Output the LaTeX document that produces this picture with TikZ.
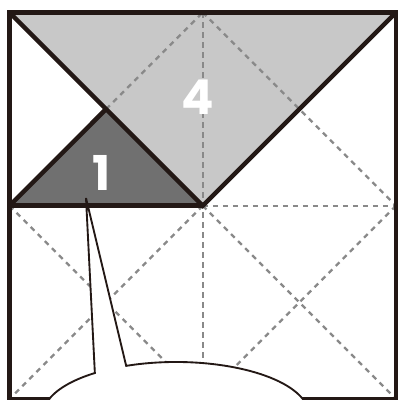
\documentclass[tikz,border=0pt]{standalone}
\usepackage{fontspec}
\setmainfont{Poppins}
\definecolor{ink}{HTML}{231815}
\definecolor{lightfold}{HTML}{C8C8C8}
\definecolor{darkfold}{HTML}{707070}
\definecolor{crease}{HTML}{898989}
\tikzset{
  heavy/.style={draw=ink, line width=3.4pt, line join=miter},
  creaseline/.style={draw=crease, line width=1.8pt, dash pattern=on 3.9pt off 3.6pt},
  bubble/.style={draw=ink, fill=white, line width=1.4pt, line join=miter},
  digit/.style={text=white, font=\fontsize{36pt}{36pt}\selectfont\bfseries, inner sep=0pt}
}
\begin{document}
\begin{tikzpicture}[x=0.75pt, y=0.75pt]
\useasboundingbox (0,0) rectangle (399,400);
% corners and key points (y up)
\coordinate (TL) at (9.5,387.5);
\coordinate (TR) at (396,387.5);
\coordinate (BR) at (396,1);
\coordinate (BL) at (9.5,1);
\coordinate (TM) at (202.75,387.5);
\coordinate (BM) at (202.75,1);
\coordinate (LM) at (9.5,194.25);
\coordinate (RM) at (396,194.25);
\coordinate (C)  at (202.75,194.25);
\coordinate (AP) at (106.1,290.9);
% folded flaps
\fill[lightfold] (TL) -- (TR) -- (C) -- cycle;
\fill[darkfold] (LM) -- (C) -- (AP) -- cycle;
% crease lines
\draw[creaseline] (TM) -- (BM);
\draw[creaseline] (C) -- (RM);
\draw[creaseline] (AP) -- (TM);
\draw[creaseline] (TM) -- (RM);
\draw[creaseline] (RM) -- (BM);
\draw[creaseline] (LM) -- (BM);
\draw[creaseline] (C) -- (BR);
\draw[creaseline] (C) -- (BL);
% labels
\node[digit] (four) at (198,302.5) {4};
\node[digit] (one) at (102,227) {1};
% heavy outlines
\draw[heavy] (TL) -- (TR) -- (BR) -- (BL) -- cycle;
\draw[heavy] (TL) -- (C) -- (TR);
\draw[heavy] (LM) -- (C);
\draw[heavy] (LM) -- (AP);
% speech bubble
\coordinate (bc) at (176,-15);
\coordinate (tip) at (86,202);
\coordinate (pr) at ([shift={(112:133 and 53)}]bc);
\draw[bubble] (tip) -- (pr) arc[start angle=112, end angle=-232.4, x radius=133, y radius=53] -- cycle;
\end{tikzpicture}
\end{document}
